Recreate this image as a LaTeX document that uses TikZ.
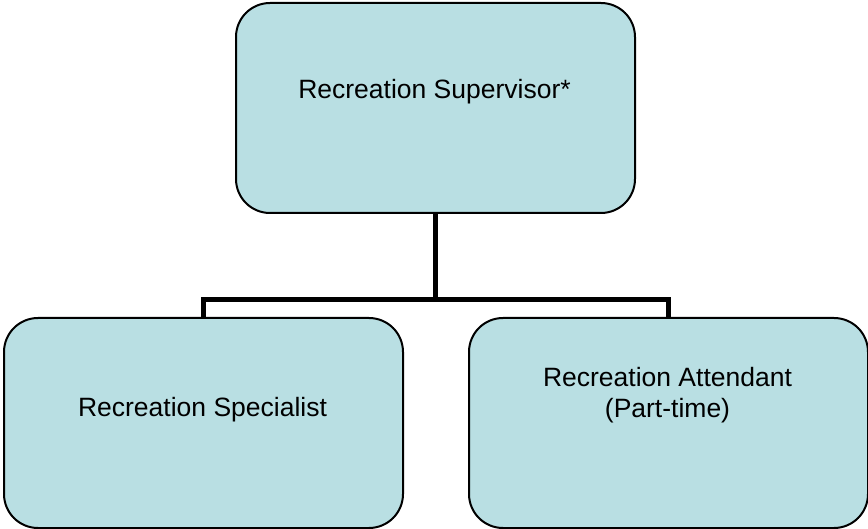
\documentclass[tikz,border=0pt]{standalone}
\usepackage{fontspec}
\setmainfont{Liberation Sans}
\definecolor{boxfill}{RGB}{185,223,227}
\begin{document}
\begin{tikzpicture}[x=1pt,y=-1pt,
  orgbox/.style={draw=black,line width=2pt,fill=boxfill,rounded corners=34pt,
    minimum width=399pt,minimum height=210pt,inner sep=0pt,anchor=north west},
  orgtext/.style={font=\fontsize{26.5}{31}\selectfont,align=center,inner sep=0pt},
  link/.style={line width=5pt}]
  \useasboundingbox (0,0) rectangle (868,529);
  % boxes
  \node[orgbox] (sup) at (235,2) {};
  \node[orgbox] (spec) at (3,317) {};
  \node[orgbox] (att) at (468,317) {};
  % labels
  \node[orgtext] (supt) at (434.5,92) {Recreation Supervisor*};
  \node[orgtext] (spect) at (202.5,410) {Recreation Specialist};
  \node[orgtext] (attt) at (667.5,395) {Recreation Attendant\\(Part-time)};
  % connectors
  \coordinate (mid) at (sup.south |- 0,300);
  \draw[link] (sup.south) -- (mid);
  \draw[link] (spec.north) |- (mid) -| (att.north);
\end{tikzpicture}
\end{document}
